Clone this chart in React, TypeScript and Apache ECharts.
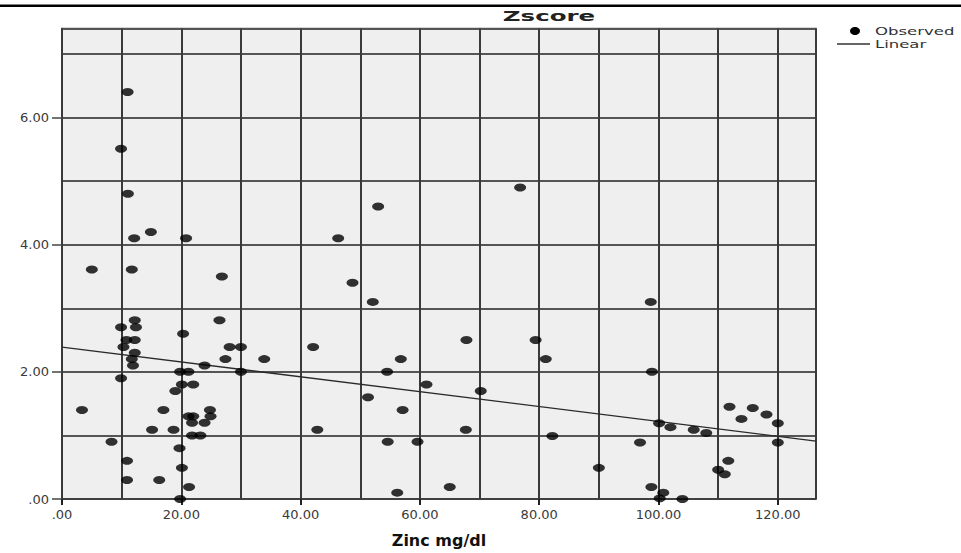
import React, { useEffect, useRef } from "react";
import * as echarts from "echarts";

// Observed points (Zinc mg/dl, Zscore)
const zincMgDl = [
  11.0, 9.9, 11.05, 12.1, 14.9, 20.8,
  5.0, 11.7, 26.8, 26.4, 12.2, 9.9, 12.4, 20.3, 10.8, 12.2, 10.3, 28.1, 30.0, 42.1,
  12.2, 11.7, 27.4, 33.9, 11.9, 23.9, 19.8, 21.2, 30.0, 9.9, 20.1, 22.0, 19.0, 3.35,
  17.0, 24.8, 21.2, 22.0, 24.9, 21.8, 23.9, 15.1, 18.7, 42.8, 21.8, 23.2, 8.3, 19.7,
  10.9, 20.1, 10.9, 16.3, 21.3, 19.8, 54.6, 59.6, 56.2, 65.0,
  76.8, 53.0, 46.3, 48.7, 52.1, 67.8, 79.4, 56.8, 81.1, 54.5, 61.1, 70.2, 51.3, 57.1,
  67.7, 82.2,
  98.7, 98.9, 111.9, 115.8, 118.1, 113.9, 120.0, 100.1, 102.0, 105.9, 108.0, 96.9, 120.0,
  90.0, 111.7, 110.0, 111.1, 98.8, 100.8, 100.2, 104.0,
];
const zscore = [
  6.4, 5.51, 4.8, 4.1, 4.2, 4.1,
  3.61, 3.61, 3.5, 2.81, 2.81, 2.7, 2.7, 2.6, 2.5, 2.5, 2.39, 2.39, 2.39, 2.39,
  2.3, 2.2, 2.2, 2.2, 2.1, 2.1, 2.0, 2.0, 2.0, 1.9, 1.8, 1.8, 1.7, 1.4,
  1.4, 1.4, 1.3, 1.3, 1.3, 1.2, 1.2, 1.09, 1.09, 1.09, 1.0, 1.0, 0.9, 0.8,
  0.6, 0.49, 0.3, 0.3, 0.19, 0.0, 0.9, 0.9, 0.1, 0.19,
  4.9, 4.6, 4.1, 3.4, 3.1, 2.5, 2.5, 2.2, 2.2, 2.0, 1.8, 1.7, 1.6, 1.4,
  1.09, 0.99,
  3.1, 2.0, 1.45, 1.43, 1.33, 1.26, 1.19, 1.19, 1.13, 1.09, 1.04, 0.89, 0.89,
  0.49, 0.6, 0.46, 0.39, 0.19, 0.1, 0.01, 0.0,
];

// Linear fit line endpoints
const linearX = [0, 126.4];
const linearY = [2.39, 0.91];

// Axis ticks / labels
const xLabelValues = [0, 20, 40, 60, 80, 100, 120];
const yLabelValues = [0, 2, 4, 6];
const xMax = 126.4;
const yMax = 7.4;
const xGridStep = 10;
const yGridStep = 1;

const fmt = (v: number) => (v === 0 ? ".00" : v.toFixed(2));

export default function App() {
  const ref = useRef<HTMLDivElement>(null);
  useEffect(() => {
    if (!ref.current) return;
    const chart = echarts.init(ref.current, null, { renderer: "svg" });
    const observed = zincMgDl.map((x, i) => [x, zscore[i]]);
    const linear = linearX.map((x, i) => [x, linearY[i]]);
    const labelFont = "DejaVu Sans";
    chart.setOption({
      animation: false,
      backgroundColor: "#ffffff",
      grid: {
        left: 62,
        right: 145,
        top: 28.5,
        bottom: 53.7,
        show: true,
        backgroundColor: "#efefef",
        borderColor: "#5a5a5a",
        borderWidth: 1.5,
      },
      xAxis: [
        {
          type: "value",
          min: 0,
          max: xMax,
          interval: 20,
          name: "Zinc mg/dl",
          nameLocation: "middle",
          nameGap: 33,
          nameTextStyle: {
            fontFamily: labelFont,
            fontWeight: "bold",
            fontSize: 16,
            color: "#111",
          },
          axisLine: { show: true, lineStyle: { color: "#3a3a3a", width: 1.5 } },
          axisTick: {
            show: true,
            length: 6,
            customValues: xLabelValues,
            lineStyle: { color: "#222", width: 2 },
          },
          axisLabel: {
            customValues: xLabelValues,
            formatter: fmt,
            margin: 9,
            fontFamily: labelFont,
            fontSize: 13,
            color: "#3a3a3a",
          },
          splitLine: { show: false },
        },
        {
          type: "value",
          min: 0,
          max: xMax,
          interval: xGridStep,
          position: "bottom",
          axisLine: { show: false },
          axisTick: { show: false },
          axisLabel: { show: false },
          splitLine: { show: true, lineStyle: { color: "#3a3a3a", width: 2 } },
        },
      ],
      yAxis: [
        {
          type: "value",
          min: 0,
          max: yMax,
          interval: 2,
          axisLine: { show: true, lineStyle: { color: "#3a3a3a", width: 1.5 } },
          axisTick: {
            show: true,
            length: 10,
            customValues: yLabelValues,
            lineStyle: { color: "#444", width: 1.5 },
          },
          axisLabel: {
            customValues: yLabelValues,
            formatter: fmt,
            margin: 13,
            fontFamily: labelFont,
            fontSize: 13,
            color: "#3a3a3a",
          },
          splitLine: { show: false },
        },
        {
          type: "value",
          min: 0,
          max: yMax,
          interval: yGridStep,
          position: "left",
          axisLine: { show: false },
          axisTick: { show: false },
          axisLabel: { show: false },
          splitLine: { show: true, lineStyle: { color: "#555", width: 2 } },
        },
      ],
      series: [
        {
          name: "Observed",
          type: "scatter",
          xAxisIndex: 0,
          yAxisIndex: 0,
          data: observed,
          symbol: "circle",
          symbolSize: [12, 8],
          itemStyle: { color: "#000000" },
          z: 3,
        },
        {
          name: "Linear",
          type: "line",
          xAxisIndex: 0,
          yAxisIndex: 0,
          data: linear,
          showSymbol: false,
          symbol: "none",
          lineStyle: { color: "#2a2a2a", width: 1.3 },
          z: 2,
        },
      ],
      graphic: [
        {
          type: "rect",
          shape: { x: 0, y: 4.5, width: 961, height: 2.5 },
          style: { fill: "#000" },
        },
        {
          type: "text",
          x: 549,
          y: 16,
          scaleX: 1.75,
          style: {
            text: "Zscore",
            fontFamily: labelFont,
            fontWeight: "bold",
            fontSize: 14,
            fill: "#222",
            align: "center",
            verticalAlign: "middle",
          },
        },
        {
          type: "ellipse",
          shape: { cx: 855, cy: 31, rx: 5, ry: 4 },
          style: { fill: "#000" },
        },
        {
          type: "text",
          x: 875,
          y: 31,
          scaleX: 1.5,
          style: {
            text: "Observed",
            fontFamily: labelFont,
            fontSize: 11,
            fill: "#333",
            align: "left",
            verticalAlign: "middle",
          },
        },
        {
          type: "line",
          shape: { x1: 837, y1: 44, x2: 870, y2: 44 },
          style: { stroke: "#333", lineWidth: 1.5 },
        },
        {
          type: "text",
          x: 875,
          y: 44.5,
          scaleX: 1.5,
          style: {
            text: "Linear",
            fontFamily: labelFont,
            fontSize: 11,
            fill: "#333",
            align: "left",
            verticalAlign: "middle",
          },
        },
      ],
    });
    return () => chart.dispose();
  }, []);
  return (
    <div
      ref={ref}
      style={{ position: "fixed", left: 0, top: 0, width: 961, height: 553 }}
    />
  );
}
